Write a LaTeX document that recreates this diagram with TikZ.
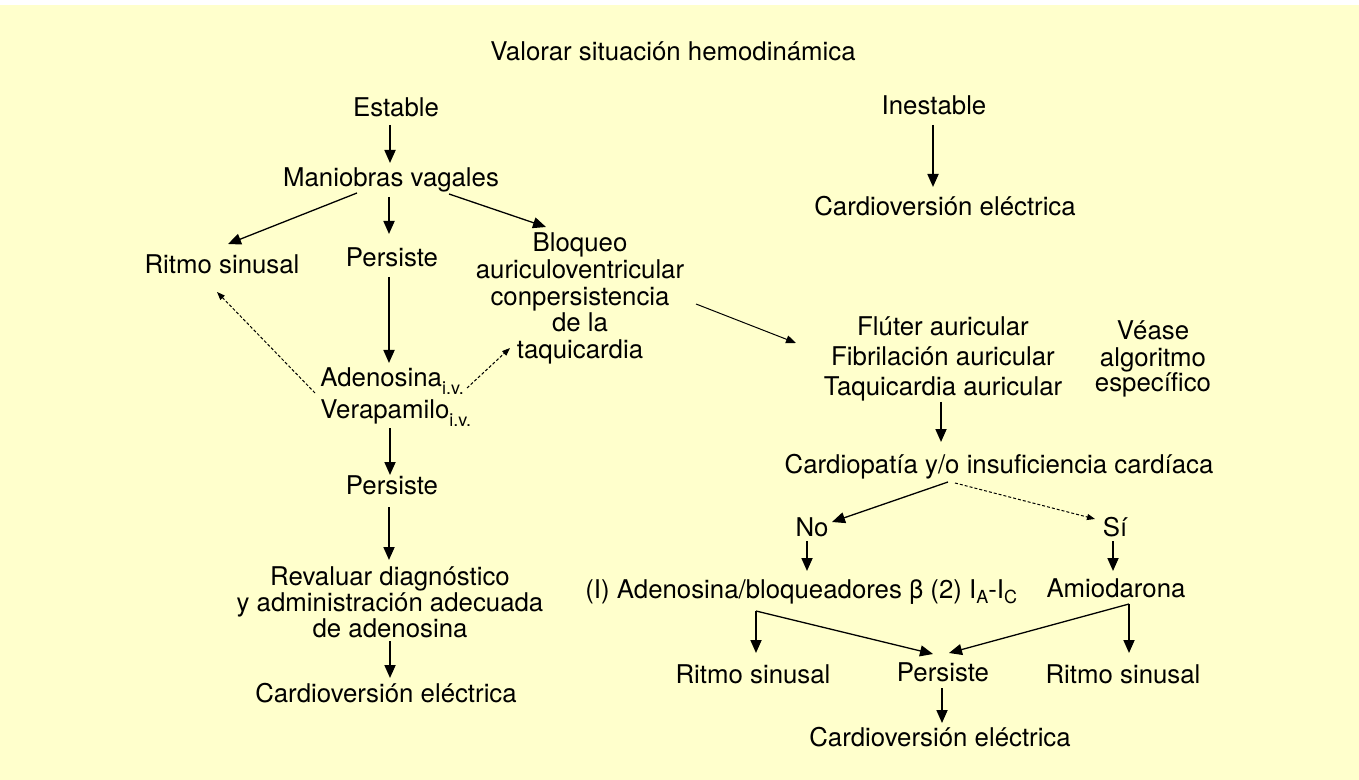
\documentclass[tikz,border=0pt]{standalone}
\usepackage{fontspec}
\setmainfont{TeX Gyre Heros}
\usetikzlibrary{arrows.meta}
\definecolor{bgy}{RGB}{255,255,204}
\newcommand\lowsub[2]{\raisebox{-#1}[0pt][0pt]{\fontsize{9}{9}\selectfont #2}}
\begin{document}
\begin{tikzpicture}[x=0.5pt,y=-0.5pt,
  lbl/.style={inner sep=0pt, font=\fontsize{12.9}{13.25}\selectfont, align=center, anchor=base},
  arr/.style={line width=0.9pt, -{Triangle[length=6.5pt,width=5.5pt]}},
  arrd/.style={line width=0.65pt, -{Triangle[length=6.5pt,width=5.5pt]}},
  thinarr/.style={line width=0.5pt, -{Triangle[length=5pt,width=4pt]}},
  dotarr/.style={line width=0.5pt, dash pattern=on 1.5pt off 1pt, -{Triangle[length=4pt,width=3pt]}}]
\useasboundingbox (0,0) rectangle (1359,780);
\fill[white] (0,0) rectangle (1359,780);
\fill[bgy] (0,5) rectangle (1359,780);

% nodes (multi-line nodes: base = baseline of last line)
\node[lbl] (title) at (673,61) {Valorar situación hemodinámica};
\node[lbl] (est) at (396,117) {Estable};
\node[lbl] (inest) at (934,115) {Inestable};
\node[lbl] (mani) at (391,187) {Maniobras vagales};
\node[lbl] (cvTR) at (945,216) {Cardioversión eléctrica};
\node[lbl] (rsL) at (222,274) {Ritmo sinusal};
\node[lbl] (persA) at (392,267) {Persiste};
\node[lbl] (bloq) at (580,358) {Bloqueo\\auriculoventricular\\conpersistencia\\de la\\taquicardia};
\node[lbl, align=left, anchor=base west, font=\fontsize{12.9}{16}\selectfont] (aden) at (320,418) {Adenosina\lowsub{4.3pt}{i.v.}\\Verapamilo\lowsub{4.3pt}{i.v.}};
\node[lbl] (persB) at (392,494) {Persiste};
\node[lbl, font=\fontsize{12.9}{12.8}\selectfont] (reval) at (390,637) {Revaluar diagnóstico\\y administración adecuada\\de adenosina};
\node[lbl] (cvL) at (386,702) {Cardioversión eléctrica};
\node[lbl, font=\fontsize{12.9}{14.75}\selectfont] (flut) at (943,395) {Flúter auricular\\Fibrilación auricular\\Taquicardia auricular};
\node[lbl, font=\fontsize{12.9}{13}\selectfont] (vease) at (1153,392) {Véase\\algoritmo\\específico};
\node[lbl] (cardio) at (999,473) {Cardiopatía y/o insuficiencia cardíaca};
\node[lbl] (no) at (812,536) {No};
\node[lbl] (si) at (1115,536) {Sí};
\node[lbl, anchor=base west] (tx1) at (585,598) {(I) Adenosina/bloqueadores β (2) I\lowsub{2.5pt}{A}-I\lowsub{2.5pt}{C}};
\node[lbl] (amio) at (1116,597) {Amiodarona};
\node[lbl] (rsBL) at (753,683) {Ritmo sinusal};
\node[lbl] (persC) at (943,681) {Persiste};
\node[lbl] (rsBR) at (1123,683) {Ritmo sinusal};
\node[lbl] (cvB) at (940,746) {Cardioversión eléctrica};

% connectors
\draw[arr] ([shift={(-6,8)}]est.base) -- ([shift={(-1,-24)}]mani.base);
\draw[arr] ([shift={(-1,10)}]inest.base) -- ([shift={(-12,-29)}]cvTR.base);
\draw[arrd] ([shift={(-34,6)}]mani.base) -- ([shift={(6,-30)}]rsL.base);
\draw[arr] ([shift={(-2,10)}]mani.base) -- ([shift={(-3,-33)}]persA.base);
\draw[arrd] ([shift={(58,7)}]mani.base) -- ([shift={(-34,-131)}]bloq.base);
\draw[arr] ([shift={(-3,10)}]persA.base) -- ([shift={(69,-55)}]aden.base west);
\draw[dotarr] ([shift={(-5,-25)}]aden.base west) -- ([shift={(-5,18)}]rsL.base);
\draw[dotarr] ([shift={(147,-30)}]aden.base west) -- ([shift={(-70,-10)}]bloq.base);
\draw[thinarr] ([shift={(116,-54)}]bloq.base) -- ([shift={(-147,-52)}]flut.base);
\draw[arr] ([shift={(70,10)}]aden.base west) -- ([shift={(-2,-19)}]persB.base);
\draw[arr] ([shift={(-3,13)}]persB.base) -- ([shift={(-1,-77)}]reval.base);
\draw[arr] ([shift={(0,4)}]reval.base) -- ([shift={(4,-24)}]cvL.base);
\draw[arr] ([shift={(-2,7)}]flut.base) -- ([shift={(-58,-31)}]cardio.base);
\draw[arrd] ([shift={(-51,9)}]cardio.base) -- ([shift={(20,-14)}]no.base);
\draw[dotarr] ([shift={(-44,10)}]cardio.base) -- ([shift={(-20,-17)}]si.base);
\draw[arr] ([shift={(-5,5)}]no.base) -- ([shift={(222,-27)}]tx1.base west);
\draw[arr] ([shift={(-2,5)}]si.base) -- ([shift={(-3,-26)}]amio.base);
\draw[arr] ([shift={(171,13)}]tx1.base west) -- ([shift={(3,-30)}]rsBL.base);
\draw[arrd] ([shift={(171,13)}]tx1.base west) -- ([shift={(-10,-27)}]persC.base);
\draw[arr] ([shift={(13,7)}]amio.base) -- ([shift={(6,-30)}]rsBR.base);
\draw[arrd] ([shift={(13,7)}]amio.base) -- ([shift={(6,-28)}]persC.base);
\draw[arr] ([shift={(-1,7)}]persC.base) -- ([shift={(2,-23)}]cvB.base);
\end{tikzpicture}
\end{document}
